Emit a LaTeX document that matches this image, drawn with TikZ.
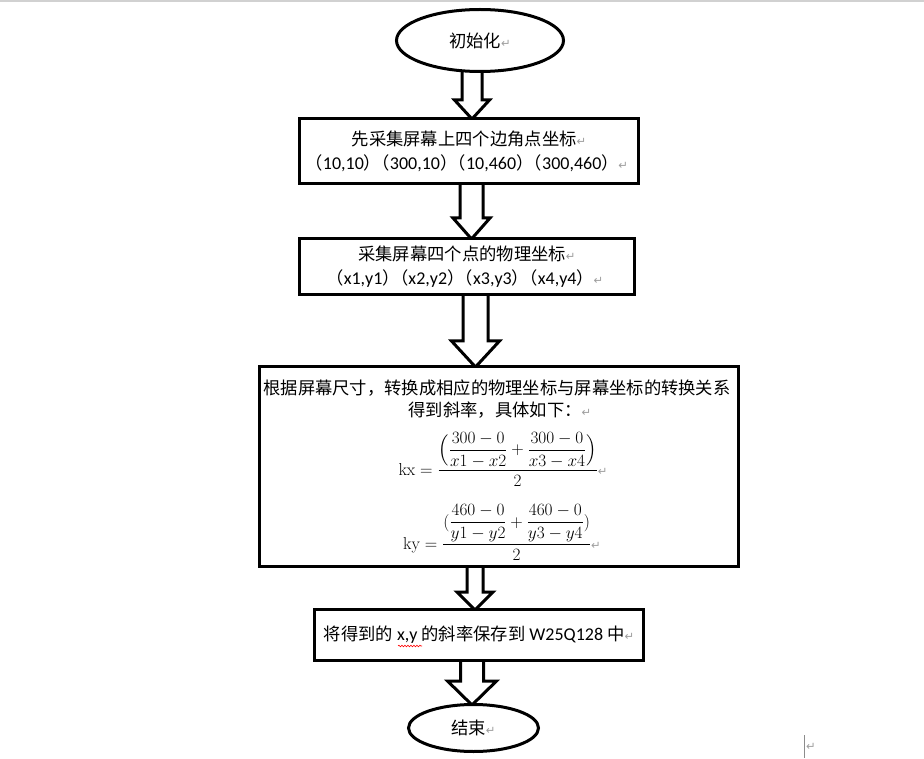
\documentclass[tikz,border=0pt]{standalone}
\usepackage{amsmath}
\usepackage[no-math]{fontspec}
\setmainfont{Carlito}
\newfontfamily\cjk{Noto Sans CJK SC}
\newfontfamily\symf{DejaVu Sans}
\usetikzlibrary{shapes.geometric,calc,decorations.pathmorphing}
\pgfdeclarelayer{bg}
\pgfsetlayers{bg,main}
\newcommand\pmark{{\symf\fontsize{11.5}{11.5}\selectfont\color{black!38}↵}}
\newcommand\zh[1]{{\cjk\fontsize{17.3}{24}\selectfont #1}}
\newcommand\lpar{\makebox[13pt][r]{\zh{（}}}
\newcommand\rpar{\makebox[13pt][l]{\zh{）}}}
\tikzset{
  outline/.style={draw=black, line width=3pt, fill=white},
  termnode/.style={outline, ellipse, inner sep=0pt, font=\fontsize{18}{24}\selectfont},
  procbox/.style={outline, rectangle, inner sep=0pt, align=center, font=\fontsize{18}{24}\selectfont},
  blockarr/.style={draw=black, line width=3pt, fill=white, line join=miter},
  txt/.style={inner sep=0pt, align=center, font=\fontsize{18}{24}\selectfont},
  mathtxt/.style={inner sep=0pt, anchor=base, text height=24pt, text depth=12pt, font=\fontsize{17}{20}\selectfont},
}
% #1 x centre, #2 from node, #3 to node, #4 shaft half width, #5 head half width, #6 head length
\newcommand\blockarrow[6]{%
  \begin{pgfonlayer}{bg}
  \draw[blockarr] let \p1=(#2.south), \p2=(#3.north) in
    ({(#1-#4)*1pt}, \y1+4pt) -- ({(#1-#4)*1pt}, \y2+#6pt) -- ({(#1-#5)*1pt}, \y2+#6pt)
    -- ({#1*1pt}, \y2-2pt) -- ({(#1+#5)*1pt}, \y2+#6pt) -- ({(#1+#4)*1pt}, \y2+#6pt)
    -- ({(#1+#4)*1pt}, \y1+4pt) -- cycle;
  \end{pgfonlayer}}
\begin{document}
\begin{tikzpicture}[x=1pt,y=-1pt]
\useasboundingbox (0,0) rectangle (924,759);
\draw[black!18, line width=2pt] (0,1) -- (924,1);

\node[termnode, minimum width=167pt, minimum height=62pt] (start) at (480,40.5) {\zh{初始化}\pmark};

\node[procbox, minimum width=339pt, minimum height=65pt] (b1) at (469,151)
  {\zh{先采集屏幕上四个边角点坐标}\pmark\\
   \lpar 10,10\rpar\lpar 300,10\rpar\lpar 10,460\rpar\lpar 300,460\rpar\ \pmark};

\node[procbox, minimum width=335pt, minimum height=56pt] (b2) at (467,266.5)
  {\zh{采集屏幕四个点的物理坐标}\pmark\\
   \lpar x1,y1\rpar\lpar x2,y2\rpar\lpar x3,y3\rpar\lpar x4,y4\rpar\ \pmark};

\node[procbox, minimum width=479pt, minimum height=200pt] (b3) at (499,466.5) {};
\node[txt] (b3l1) at (497,388) {\zh{根据屏幕尺寸，转换成相应的物理坐标与屏幕坐标的转换关系}};
\node[txt] (b3l2) at (500,410) {\zh{得到斜率，具体如下：}\pmark};
\node[mathtxt] (fkx) at (503,475)
  {$\displaystyle \mathrm{kx}=\frac{\Bigl(\dfrac{300-0}{x1-x2}+\dfrac{300-0}{x3-x4}\Bigr)}{2}$\pmark};
\node[mathtxt] (fky) at (502,549)
  {$\displaystyle \mathrm{ky}=\frac{(\dfrac{460-0}{y1-y2}+\dfrac{460-0}{y3-y4})}{2}$\pmark};

\node[procbox, minimum width=329pt, minimum height=51pt] (b4) at (479,635)
  {\zh{将得到的} x,y \zh{的斜率保存到} W25Q128 \zh{中}\pmark};
\draw[red, line width=0.6pt, decorate, decoration={snake, amplitude=0.8pt, segment length=3pt}] (398,646) -- (422,646);

\node[termnode, minimum width=130pt, minimum height=47pt] (end) at (473.5,728) {\zh{结束}\pmark};

\blockarrow{472}{start}{b1}{10}{17.5}{17}
\blockarrow{471.5}{b1}{b2}{11.5}{18.5}{19}
\blockarrow{475.5}{b2}{b3}{12.5}{24}{24}
\blockarrow{475}{b3}{b4}{8}{18}{16}
\blockarrow{472}{b4}{end}{11.5}{24.5}{22}

\draw[black!45, line width=1pt] (804.5,735) -- (804.5,758);
\node[inner sep=0pt] (pagemark) at (811,747) {\pmark};
\end{tikzpicture}
\end{document}
